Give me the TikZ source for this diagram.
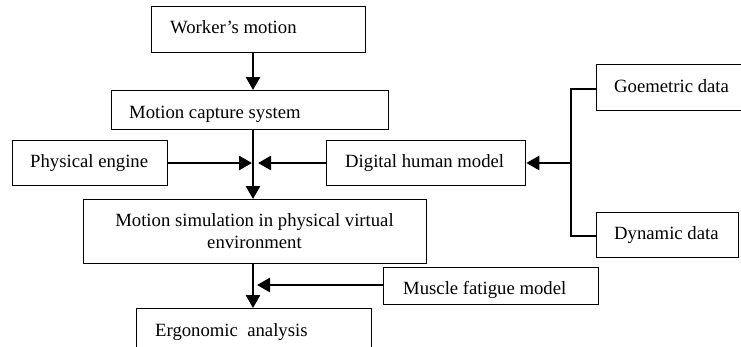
\documentclass[tikz,border=0pt]{standalone}
\usepackage{fontspec}
\setmainfont{Liberation Serif}
\usetikzlibrary{arrows.meta}
\begin{document}
\begin{tikzpicture}[x=1pt,y=-1pt,
  box/.style={draw=black,line width=1.3pt,rectangle,inner sep=0pt,anchor=north west},
  lbl/.style={anchor=base west,inner sep=0pt,font=\fontsize{18.7}{22}\selectfont},
  flow/.style={line width=2.6pt,-{Triangle[length=13pt,width=14pt]}},
  thin/.style={line width=1.5pt}]
\useasboundingbox (0,0) rectangle (741,346);
\clip (0,0) rectangle (741,346);
% boxes
\node[box,minimum width=214pt,minimum height=46pt] (worker) at (151,6) {};
\node[box,minimum width=277pt,minimum height=39pt] (cap) at (111,90) {};
\node[box,minimum width=155pt,minimum height=45pt] (pe) at (12,140) {};
\node[box,minimum width=199pt,minimum height=45pt] (dhm) at (326,140) {};
\node[box,minimum width=343pt,minimum height=64pt] (sim) at (83,199) {};
\node[box,minimum width=235pt,minimum height=52pt] (ergo) at (136,308) {};
\node[box,minimum width=215pt,minimum height=37pt] (mus) at (383,267) {};
\node[box,minimum width=170pt,minimum height=46pt] (geo) at (596,64) {};
\node[box,minimum width=142pt,minimum height=45pt] (dyn) at (596,212) {};
% texts
\node[lbl] (tworker) at (170,33) {Worker’s motion};
\node[lbl] (tcap) at (129,118) {Motion capture system};
\node[lbl] (tpe) at (30,167) {Physical engine};
\node[lbl] (tdhm) at (345,167) {Digital human model};
\node[lbl,anchor=base] (tsim1) at (254.5,226) {Motion simulation in physical virtual};
\node[lbl,anchor=base] (tsim2) at (254.5,248) {environment};
\node[lbl] (tergo) at (155,336) {Ergonomic\ \ analysis};
\node[lbl] (tmus) at (403,294) {Muscle fatigue model};
\node[lbl] (tgeo) at (614,92) {Goemetric data};
\node[lbl] (tdyn) at (614,239) {Dynamic data};
% helper coordinates
\coordinate (colA) at (253,0);
\coordinate (tipL) at (252,163);
\coordinate (tipR) at (258,163);
\coordinate (tipM) at (257,285);
\coordinate (brT) at (571,89);
\coordinate (brM) at (571,163);
\coordinate (brB) at (571,236);
% connectors
\draw[flow] (worker.south -| colA) -- (cap.north -| colA);
\draw[flow] (cap.south -| colA) -- (sim.north -| colA);
\draw[flow] (pe.east |- tipL) -- (tipL);
\draw[flow] (dhm.west |- tipR) -- (tipR);
\draw[flow] (sim.south -| colA) -- (ergo.north -| colA);
\draw[flow] (mus.west |- tipM) -- (tipM);
\draw[thin] (geo.west |- brT) -- (brT) -- (brB) -- (dyn.west |- brB);
\draw[flow] (brM) -- (dhm.east |- brM);
\end{tikzpicture}
\end{document}
